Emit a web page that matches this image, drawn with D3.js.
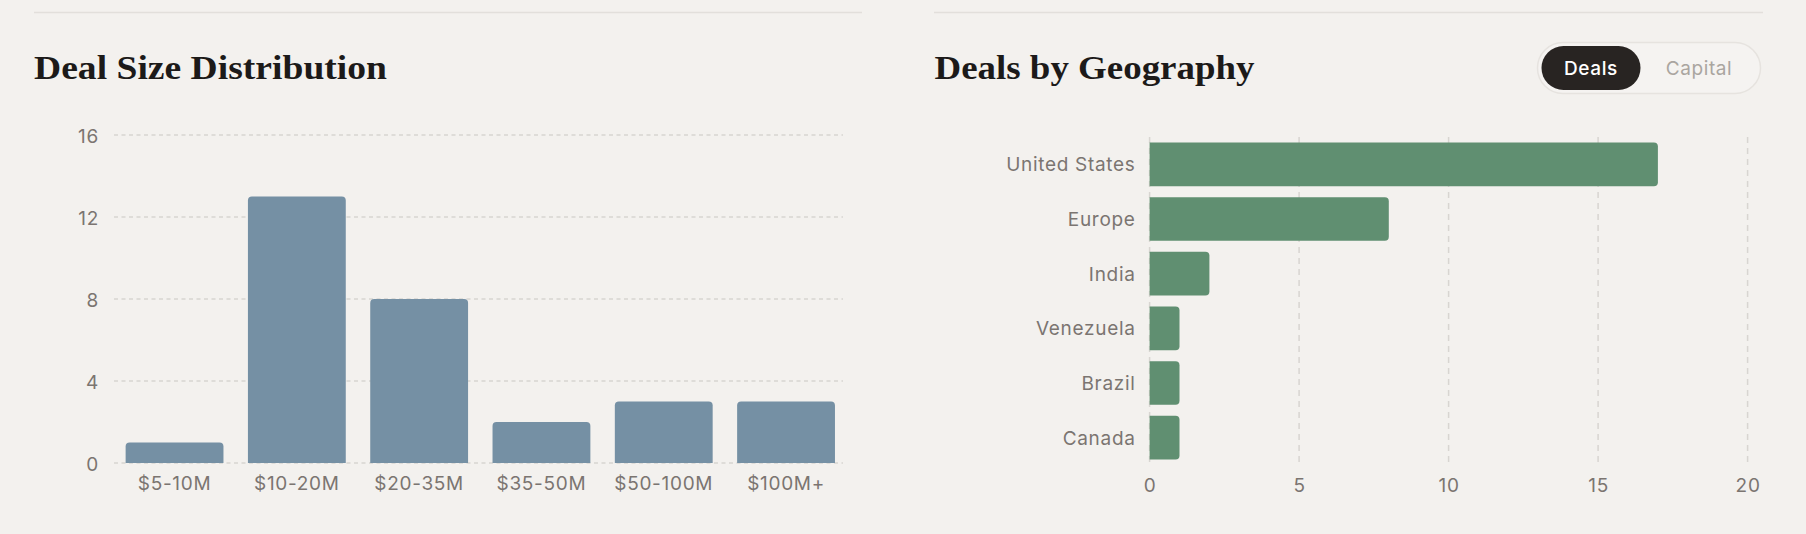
<!DOCTYPE html>
<html>
<head>
<meta charset="utf-8">
<script src="https://cdn.jsdelivr.net/npm/d3@7"></script>
<style>
  body { margin: 0; background: #f3f1ee; }
  svg { display: block; }
</style>
</head>
<body>
<div id="canvas"></div>
<script>
"use strict"

/* data */
let sizeBuckets = ["$5-10M", "$10-20M", "$20-35M", "$35-50M", "$50-100M", "$100M+"];
let sizeCounts = [1, 13, 8, 2, 3, 3];
let sizeTicks = [0, 4, 8, 12, 16];

let regions = ["United States", "Europe", "India", "Venezuela", "Brazil", "Canada"];
let regionDeals = [17, 8, 2, 1, 1, 1];
let regionTicks = [0, 5, 10, 15, 20];

let toggleLabels = ["Deals", "Capital"];

let drawing = d3.select("#canvas")
  .append("svg")
  .attr("width", 1806)
  .attr("height", 534);

drawing.append("rect")
  .attr("width", 1806).attr("height", 534)
  .attr("fill", "#f3f1ee");

let labelFont = "Inter, 'DejaVu Sans', sans-serif";
let titleFont = "'Liberation Serif', 'DejaVu Serif', serif";
let gridColor = "#d8d5d1";
let textColor = "#7b7571";

/* shared look for axis labels */
function styleLabels(axis) {
  axis.select(".domain").remove();
  axis.selectAll("text")
    .attr("font-family", labelFont).attr("font-size", 19)
    .attr("letter-spacing", "0.7px")
    .attr("fill", textColor);
}

/* bar with rounded top corners (vertical) */
function topRounded(x, y, w, h, r) {
  r = Math.min(r, h, w / 2);
  return "M" + x + "," + (y + h) +
    "V" + (y + r) + "Q" + x + "," + y + " " + (x + r) + "," + y +
    "H" + (x + w - r) + "Q" + (x + w) + "," + y + " " + (x + w) + "," + (y + r) +
    "V" + (y + h) + "Z";
}

/* bar with rounded right corners (horizontal) */
function rightRounded(x, y, w, h, r) {
  r = Math.min(r, w, h / 2);
  return "M" + x + "," + y +
    "H" + (x + w - r) + "Q" + (x + w) + "," + y + " " + (x + w) + "," + (y + r) +
    "V" + (y + h - r) + "Q" + (x + w) + "," + (y + h) + " " + (x + w - r) + "," + (y + h) +
    "H" + x + "Z";
}

/* ---------- left panel: Deal Size Distribution ---------- */
drawing.append("line")
  .attr("x1", 34).attr("x2", 862).attr("y1", 12.5).attr("y2", 12.5)
  .attr("stroke", "#e2dfdb").attr("stroke-width", 1.5);

drawing.append("text")
  .attr("x", 34).attr("y", 79)
  .attr("font-family", titleFont).attr("font-weight", 700)
  .attr("font-size", 34).attr("fill", "#1c1a19")
  .attr("textLength", 353).attr("lengthAdjust", "spacingAndGlyphs")
  .text("Deal Size Distribution");

let xSize = d3.scaleBand()
  .domain(sizeBuckets)
  .range([113.4, 847.2])
  .paddingInner(0.2).paddingOuter(0.1);

let ySize = d3.scaleLinear()
  .domain([0, 16])
  .range([463, 135]);

drawing.append("g")
  .selectAll("line")
  .data(sizeTicks)
  .join("line")
  .attr("x1", 114).attr("x2", 843)
  .attr("y1", d => ySize(d)).attr("y2", d => ySize(d))
  .attr("stroke", gridColor).attr("stroke-width", 1.5)
  .attr("stroke-dasharray", "4,3.5");

let yAxisLeft = drawing.append("g")
  .attr("transform", "translate(114,1)")
  .call(d3.axisLeft(ySize).tickValues(sizeTicks).tickSize(0).tickPadding(15));
styleLabels(yAxisLeft);

drawing.append("g")
  .selectAll("path")
  .data(sizeCounts)
  .join("path")
  .attr("d", (d, i) => topRounded(xSize(sizeBuckets[i]), ySize(d),
    xSize.bandwidth(), ySize(0) - ySize(d), 4))
  .attr("fill", "#7590a4");

let xAxisLeft = drawing.append("g")
  .attr("transform", "translate(0,465)")
  .call(d3.axisBottom(xSize).tickSize(0).tickPadding(12));
styleLabels(xAxisLeft);

/* ---------- right panel: Deals by Geography ---------- */
drawing.append("line")
  .attr("x1", 934).attr("x2", 1763).attr("y1", 12.5).attr("y2", 12.5)
  .attr("stroke", "#e2dfdb").attr("stroke-width", 1.5);

drawing.append("text")
  .attr("x", 934.5).attr("y", 79)
  .attr("font-family", titleFont).attr("font-weight", 700)
  .attr("font-size", 34).attr("fill", "#1c1a19")
  .attr("textLength", 320).attr("lengthAdjust", "spacingAndGlyphs")
  .text("Deals by Geography");

/* toggle pill */
drawing.append("rect")
  .attr("x", 1537.5).attr("y", 42.5).attr("width", 223).attr("height", 51)
  .attr("rx", 25.5)
  .attr("fill", "#f5f3f1").attr("stroke", "#e6e3df").attr("stroke-width", 1.5);

drawing.append("rect")
  .attr("x", 1541.5).attr("y", 46).attr("width", 99).attr("height", 44)
  .attr("rx", 22)
  .attr("fill", "#282422");

drawing.append("g")
  .selectAll("text")
  .data(toggleLabels)
  .join("text")
  .attr("x", (d, i) => i === 0 ? 1591 : 1699)
  .attr("y", 75)
  .attr("text-anchor", "middle")
  .attr("font-family", labelFont).attr("font-size", 19)
  .attr("letter-spacing", "0.6px")
  .attr("font-weight", (d, i) => i === 0 ? 500 : 400)
  .attr("fill", (d, i) => i === 0 ? "#ffffff" : "#aaa5a0")
  .text(d => d);

let xGeo = d3.scaleLinear()
  .domain([0, 20])
  .range([1149.6, 1747.6]);

let yGeo = d3.scaleBand()
  .domain(regions)
  .range([137, 465])
  .paddingInner(0.2).paddingOuter(0.1);

drawing.append("g")
  .selectAll("line")
  .data(regionTicks)
  .join("line")
  .attr("x1", d => xGeo(d)).attr("x2", d => xGeo(d))
  .attr("y1", 137).attr("y2", 465)
  .attr("stroke", gridColor).attr("stroke-width", 1.5)
  .attr("stroke-dasharray", "6,5");

drawing.append("g")
  .selectAll("path")
  .data(regionDeals)
  .join("path")
  .attr("d", (d, i) => rightRounded(xGeo(0), yGeo(regions[i]),
    xGeo(d) - xGeo(0), yGeo.bandwidth(), 4))
  .attr("fill", "#608f71");

let yAxisRight = drawing.append("g")
  .attr("transform", "translate(1149.6,1)")
  .call(d3.axisLeft(yGeo).tickSize(0).tickPadding(14));
styleLabels(yAxisRight);

let xAxisRight = drawing.append("g")
  .attr("transform", "translate(0,467)")
  .call(d3.axisBottom(xGeo).tickValues(regionTicks).tickSize(0).tickPadding(12));
styleLabels(xAxisRight);
</script>
</body>
</html>
